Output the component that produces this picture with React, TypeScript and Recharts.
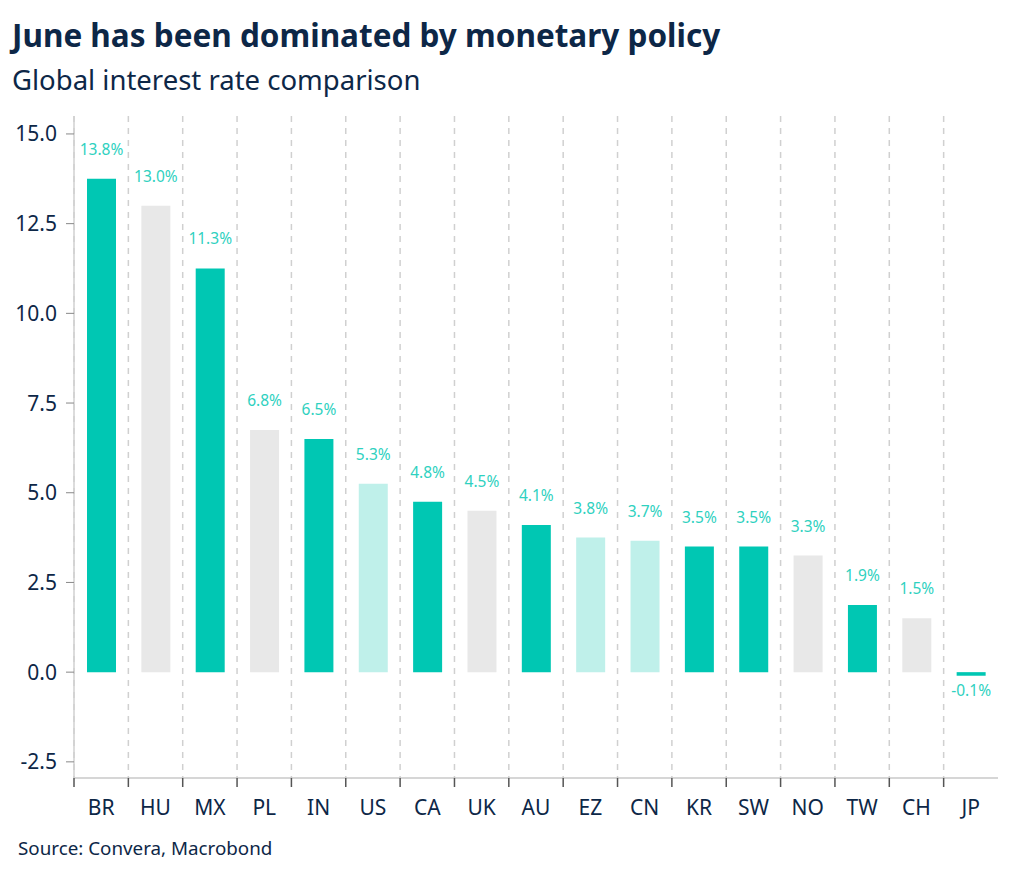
import React from 'react';
import { BarChart, Bar, XAxis, YAxis, CartesianGrid, Cell, LabelList } from 'recharts';

const countries = ['BR', 'HU', 'MX', 'PL', 'IN', 'US', 'CA', 'UK', 'AU', 'EZ', 'CN', 'KR', 'SW', 'NO', 'TW', 'CH', 'JP'];
const rates = [13.75, 13.0, 11.25, 6.75, 6.5, 5.25, 4.75, 4.5, 4.1, 3.75, 3.66, 3.5, 3.5, 3.25, 1.875, 1.5, -0.1];
const groups = ['a', 'b', 'a', 'b', 'a', 'c', 'a', 'b', 'a', 'c', 'c', 'a', 'a', 'b', 'a', 'b', 'a'];
const yTicks = [-2.5, 0, 2.5, 5, 7.5, 10, 12.5, 15];

const groupColors: Record<string, string> = { a: '#00c7b3', b: '#e8e8e8', c: '#bff0ea' };

const data = countries.map((name, i) => ({ name, rate: rates[i], group: groups[i] }));

const WIDTH = 1024;
const HEIGHT = 880;
const LEFT = 74;
const RIGHT = 26;
const BAND = (WIDTH - LEFT - RIGHT) / countries.length;

const NAVY = '#0d2747';
const FONT = '"Noto Sans", "Open Sans", sans-serif';

const XTick = (props: any) => {
  const { x, y, payload } = props;
  const edge = x - BAND / 2;
  return (
    <g>
      <line x1={edge} y1={y} x2={edge} y2={y + 9} stroke="#555" strokeWidth={1.5} />
      <text x={x} y={y + 29} textAnchor="middle" dominantBaseline="central" fill={NAVY} fontSize={21} fontFamily={FONT}>
        {payload.value}
      </text>
    </g>
  );
};

const RateLabel = (props: any) => {
  const { x, y, width, height, value } = props;
  const top = Math.min(y, y + height);
  const bottom = Math.max(y, y + height);
  const ty = value >= 0 ? top - 30 : bottom + 14;
  return (
    <text x={x + width / 2} y={ty} textAnchor="middle" dominantBaseline="central" fill="#2fd1c0" fontSize={15.5} fontFamily={FONT}>
      {value.toFixed(1)}%
    </text>
  );
};

export default function App() {
  return (
    <div style={{ position: 'fixed', top: 0, left: 0, width: WIDTH, height: HEIGHT, background: '#fff', fontFamily: FONT }}>
      <div style={{ position: 'absolute', left: 12, top: 19, fontSize: 31.5, lineHeight: 1, fontWeight: 700, color: NAVY, whiteSpace: 'nowrap' }}>
        June has been dominated by monetary policy
      </div>
      <div style={{ position: 'absolute', left: 12, top: 66, fontSize: 27.5, lineHeight: 1, color: NAVY, whiteSpace: 'nowrap' }}>
        Global interest rate comparison
      </div>
      <BarChart
        width={WIDTH}
        height={HEIGHT}
        data={data}
        margin={{ top: 116, right: RIGHT, bottom: 62, left: 0 }}
        barSize={29}
      >
        <CartesianGrid
          horizontal={false}
          stroke="#d0d0d0"
          strokeWidth={1.5}
          strokeDasharray="6 6"
          verticalCoordinatesGenerator={({ offset }: any) =>
            countries.map((_, i) => offset.left + (i * offset.width) / countries.length)
          }
        />
        <XAxis
          dataKey="name"
          height={40}
          axisLine={{ stroke: '#c8c8c8', strokeWidth: 1.5 }}
          tickLine={false}
          tickSize={0}
          tickMargin={0}
          interval={0}
          tick={<XTick />}
        />
        <YAxis
          width={LEFT}
          domain={[-2.95, 15.5]}
          ticks={yTicks}
          type="number"
          allowDataOverflow
          axisLine={{ stroke: '#d0d0d0', strokeWidth: 1.5 }}
          tickLine={{ stroke: '#888' }}
          tickSize={8}
          tickMargin={9}
          tickFormatter={(v: number) => v.toFixed(1)}
          tick={{ fill: NAVY, fontSize: 21, fontFamily: FONT }}
        />
        <Bar dataKey="rate" isAnimationActive={false}>
          {data.map((d) => (
            <Cell key={d.name} fill={groupColors[d.group]} />
          ))}
          <LabelList dataKey="rate" content={<RateLabel />} />
        </Bar>
      </BarChart>
      <div style={{ position: 'absolute', left: 18, top: 839, fontSize: 18.8, lineHeight: 1, color: NAVY, whiteSpace: 'nowrap' }}>
        Source: Convera, Macrobond
      </div>
    </div>
  );
}
